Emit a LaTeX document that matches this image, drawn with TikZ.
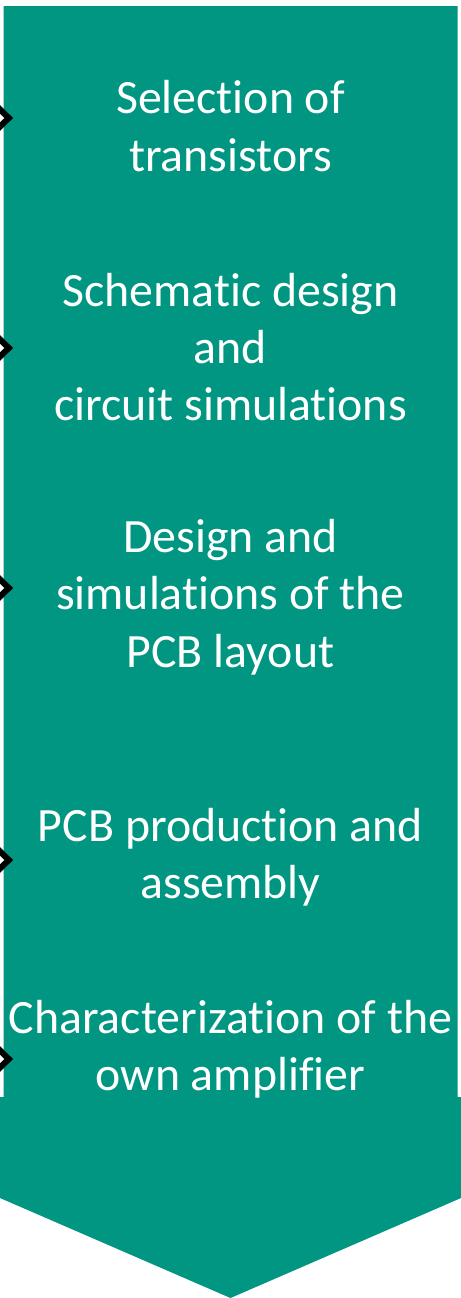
\documentclass[tikz,border=0pt]{standalone}
\usepackage{fontspec}
\setmainfont{Carlito}[RawFeature=-liga]
\definecolor{arrowgreen}{RGB}{0,150,130}
\tikzset{
  steptext/.style={text=white, align=center, font=\fontsize{48}{57.5}\selectfont, inner sep=0pt},
  marker/.style={draw=black, line width=6bp, fill=white, line join=miter},
}
\begin{document}
\begin{tikzpicture}[x=1bp,y=-1bp]
\useasboundingbox (0,0) rectangle (461,1298);
\fill[arrowgreen] (3.5,6) -- (457.5,6) -- (457.5,1097) -- (461,1097) -- (461,1198) -- (230.5,1298) -- (0,1198) -- (0,1097) -- (3.5,1097) -- cycle;
\foreach \yy in {118,348,588,860,1059}{
  \draw[marker] (-4,\yy-12.5) -- (8.8,\yy) -- (-4,\yy+12.5);
}
\node[steptext] (s1) at (230.5,126) {Selection of\\transistors};
\node[steptext] (s2) at (230.5,347) {Schematic design\\and\\circuit simulations};
\node[steptext] (s3) at (230.5,597) {Design and\\simulations of the\\PCB layout};
\node[steptext] (s4) at (230.5,857) {PCB production and\\assembly};
\node[steptext] (s5) at (230.5,1049) {Characterization of the\\own amplifier};
\end{tikzpicture}
\end{document}
